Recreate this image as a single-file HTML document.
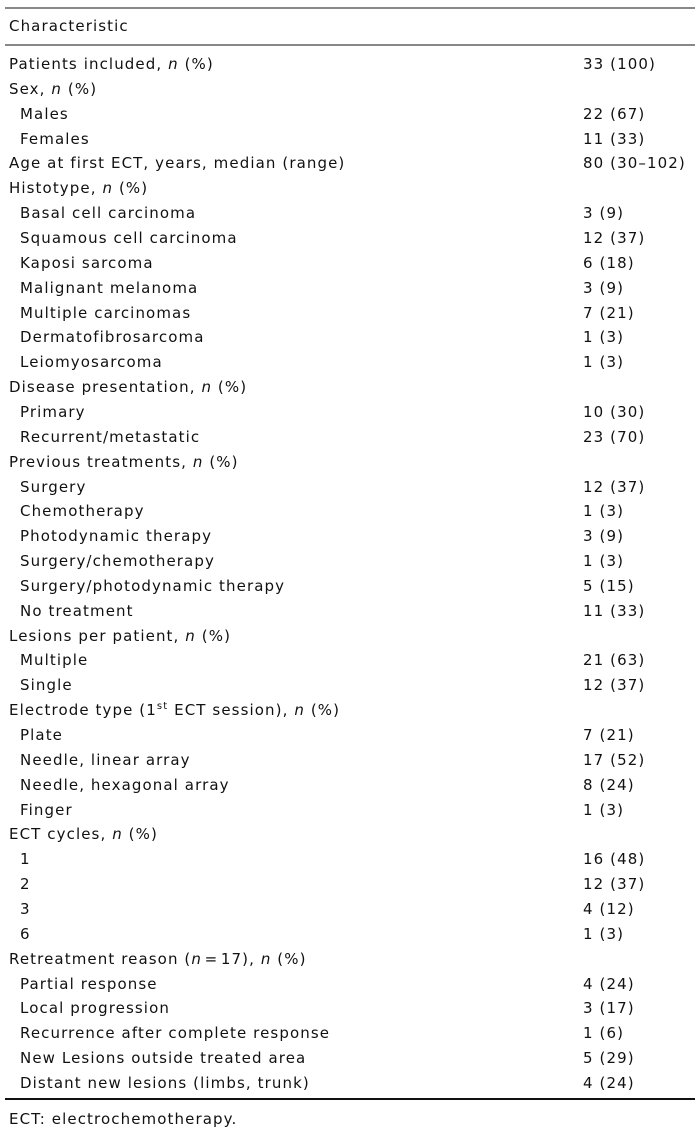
<!DOCTYPE html>
<html><head><meta charset="utf-8"><style>
body{margin:0;width:700px;height:1130px;background:#fff;position:relative;font-family:"DejaVu Sans","Liberation Sans",sans-serif;font-size:15px;letter-spacing:1.1px;color:#111;overflow:hidden}
.r{position:absolute;left:0;width:700px;height:18px;line-height:18px;white-space:nowrap}
.r span.a{position:absolute;left:9px}
.r span.i{position:absolute;left:20px}
.r span.v{position:absolute;left:583px}
.ln{position:absolute;left:5px;width:690px}
</style></head><body>
<div class="ln" style="top:7px;height:2px;background:#888"></div>
<div class="ln" style="top:44px;height:2px;background:#888"></div>
<div class="ln" style="top:1098px;height:2px;background:#111"></div>
<div class="r" style="top:17px"><span class="a">Characteristic</span></div>
<div id="rows"></div>
<div class="r" style="top:1110px"><span class="a">ECT: electrochemotherapy.</span></div>
<script>
var d=[
["a","Patients included, <i>n</i> (%)","33 (100)"],
["a","Sex, <i>n</i> (%)",""],
["i","Males","22 (67)"],
["i","Females","11 (33)"],
["a","Age at first ECT, years, median (range)","80 (30–102)"],
["a","Histotype, <i>n</i> (%)",""],
["i","Basal cell carcinoma","3 (9)"],
["i","Squamous cell carcinoma","12 (37)"],
["i","Kaposi sarcoma","6 (18)"],
["i","Malignant melanoma","3 (9)"],
["i","Multiple carcinomas","7 (21)"],
["i","Dermatofibrosarcoma","1 (3)"],
["i","Leiomyosarcoma","1 (3)"],
["a","Disease presentation, <i>n</i> (%)",""],
["i","Primary","10 (30)"],
["i","Recurrent/metastatic","23 (70)"],
["a","Previous treatments, <i>n</i> (%)",""],
["i","Surgery","12 (37)"],
["i","Chemotherapy","1 (3)"],
["i","Photodynamic therapy","3 (9)"],
["i","Surgery/chemotherapy","1 (3)"],
["i","Surgery/photodynamic therapy","5 (15)"],
["i","No treatment","11 (33)"],
["a","Lesions per patient, <i>n</i> (%)",""],
["i","Multiple","21 (63)"],
["i","Single","12 (37)"],
["a","Electrode type (1<sup style=\"font-size:10px;line-height:0\">st</sup> ECT session), <i>n</i> (%)",""],
["i","Plate","7 (21)"],
["i","Needle, linear array","17 (52)"],
["i","Needle, hexagonal array","8 (24)"],
["i","Finger","1 (3)"],
["a","ECT cycles, <i>n</i> (%)",""],
["i","1","16 (48)"],
["i","2","12 (37)"],
["i","3","4 (12)"],
["i","6","1 (3)"],
["a","Retreatment reason (<i>n</i>&#8202;=&#8202;17), <i>n</i> (%)",""],
["i","Partial response","4 (24)"],
["i","Local progression","3 (17)"],
["i","Recurrence after complete response","1 (6)"],
["i","New Lesions outside treated area","5 (29)"],
["i","Distant new lesions (limbs, trunk)","4 (24)"]];
var h="";for(var k=0;k<d.length;k++){var t=64+k*24.85-9;
h+='<div class="r" style="top:'+t.toFixed(1)+'px"><span class="'+d[k][0]+'">'+d[k][1]+'</span><span class="v">'+d[k][2]+'</span></div>';}
document.getElementById("rows").innerHTML=h;
</script>
</body></html>
